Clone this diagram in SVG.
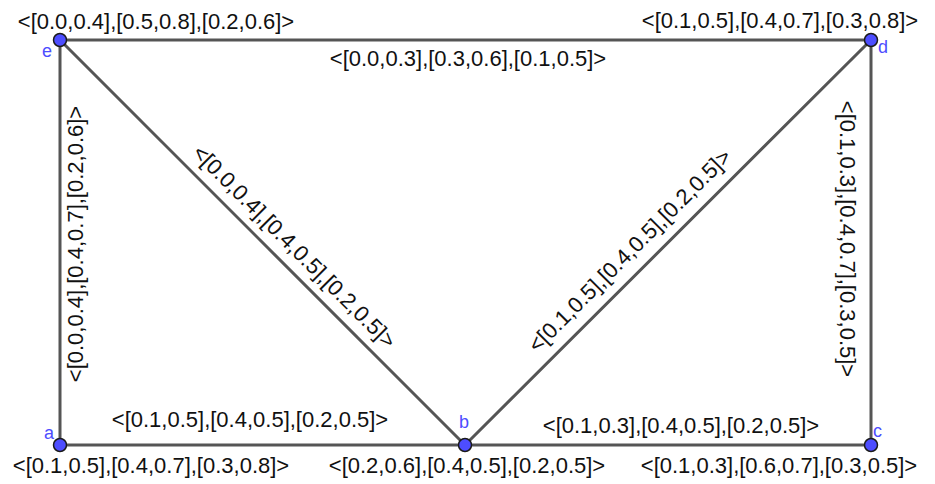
<svg xmlns="http://www.w3.org/2000/svg" width="935" height="484" viewBox="0 0 935 484">
<style>
.edge{stroke:#555;stroke-width:3;fill:none;stroke-linecap:round}
.lbl{font-family:"Liberation Sans",Arial,sans-serif;font-size:22px;fill:#111;text-anchor:middle}
.nl{font-family:"Liberation Sans",Arial,sans-serif;font-size:18px;fill:#4d4dff}
.pt{fill:#4d4dff;stroke:#1a1a1a;stroke-width:1.5}
</style>
<rect width="935" height="484" fill="#fff"/>
<g id="connectors">
<line class="edge" x1="60" y1="40" x2="871" y2="40"/>
<line class="edge" x1="60" y1="40" x2="60" y2="445"/>
<line class="edge" x1="871" y1="40" x2="871" y2="445"/>
<line class="edge" x1="60" y1="445" x2="871" y2="445"/>
<line class="edge" x1="60" y1="40" x2="465" y2="445"/>
<line class="edge" x1="871" y1="40" x2="465" y2="445"/>
<text class="lbl" x="468" y="66">&lt;[0.0,0.3],[0.3,0.6],[0.1,0.5]&gt;</text>
<text class="lbl" x="250" y="427">&lt;[0.1,0.5],[0.4,0.5],[0.2,0.5]&gt;</text>
<text class="lbl" x="681" y="433">&lt;[0.1,0.3],[0.4,0.5],[0.2,0.5]&gt;</text>
<text class="lbl" transform="translate(83,244) rotate(-90)">&lt;[0.0,0.4],[0.4,0.7],[0.2,0.6]&gt;</text>
<text class="lbl" transform="translate(840,239) rotate(90)">&lt;[0.1,0.3],[0.4,0.7],[0.3,0.5]&gt;</text>
<text class="lbl" transform="translate(289,252) rotate(45)">&lt;[0.0,0.4],[0.4,0.5],[0.2,0.5]&gt;</text>
<text class="lbl" transform="translate(635,256) rotate(-45)">&lt;[0.1,0.5],[0.4,0.5],[0.2,0.5]&gt;</text>
</g>
<g id="node-e">
<circle class="pt" cx="60" cy="40" r="6.5"/>
<text class="nl" x="42" y="57">e</text>
<text class="lbl" x="156" y="29">&lt;[0.0,0.4],[0.5,0.8],[0.2,0.6]&gt;</text>
</g>
<g id="node-d">
<circle class="pt" cx="871" cy="40" r="6.5"/>
<text class="nl" x="878" y="53">d</text>
<text class="lbl" x="780" y="28">&lt;[0.1,0.5],[0.4,0.7],[0.3,0.8]&gt;</text>
</g>
<g id="node-a">
<circle class="pt" cx="60" cy="445" r="6.5"/>
<text class="nl" x="44" y="439">a</text>
<text class="lbl" x="151" y="473">&lt;[0.1,0.5],[0.4,0.7],[0.3,0.8]&gt;</text>
</g>
<g id="node-b">
<circle class="pt" cx="465" cy="445" r="6.5"/>
<text class="nl" x="459" y="428">b</text>
<text class="lbl" x="467" y="473">&lt;[0.2,0.6],[0.4,0.5],[0.2,0.5]&gt;</text>
</g>
<g id="node-c">
<circle class="pt" cx="871" cy="445" r="6.5"/>
<text class="nl" x="873" y="437">c</text>
<text class="lbl" x="779" y="473">&lt;[0.1,0.3],[0.6,0.7],[0.3,0.5]&gt;</text>
</g>
</svg>
